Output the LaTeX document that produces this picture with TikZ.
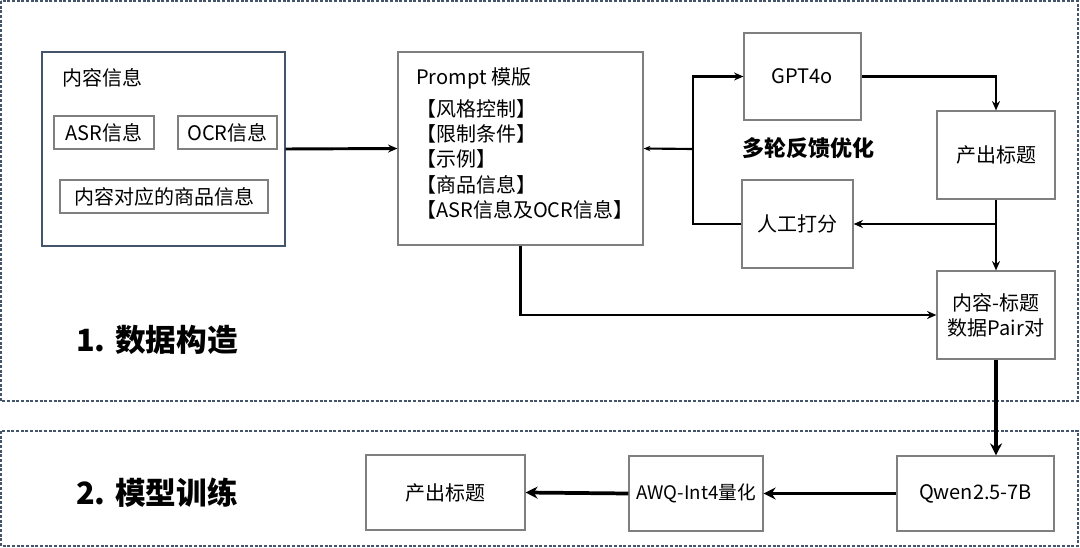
\documentclass[tikz,border=0pt]{standalone}
\usepackage{fontspec}
\setmainfont{Noto Sans CJK SC}
\usetikzlibrary{arrows.meta}
\definecolor{frameBlue}{HTML}{44546A}
\definecolor{boxGray}{HTML}{7F7F7F}

\begin{document}
\begin{tikzpicture}[x=0.75pt, y=-0.75pt, font=\fontsize{15}{18.75}\selectfont,
	box/.style={draw=boxGray, line width=0.9pt, inner sep=0pt, align=center},
	frame/.style={draw=frameBlue, line width=1pt, dash pattern=on 2.2pt off 1.3pt},
	flow/.style={line width=1.6pt, -{Stealth[length=7pt,width=6pt]}},
	heavy/.style={line width=2.8pt, -{Stealth[length=9pt,width=9pt]}}]
	\useasboundingbox (0,0) rectangle (1080,548);
	% two stages
	\draw[frame] (1,1) rectangle (1078,401);
	\draw[frame] (1,431) rectangle (1078,546);
	\node[font=\fontsize{23}{26}\selectfont\bfseries] (stageOne) at (157,340) {1. 数据构造};
	\node[font=\fontsize{23}{26}\selectfont\bfseries] (stageTwo) at (157,493) {2. 模型训练};

	% inputs
	\node[box, draw=frameBlue, minimum width=182.25pt, minimum height=145.5pt] (content) at (163.5,149) {};
	\node[anchor=west] (contentTitle) at (58,78) {内容信息};
	\node[box, minimum width=75pt, minimum height=24.75pt] (asr) at (104,132.5) {ASR信息};
	\node[box, minimum width=74.25pt, minimum height=24.75pt] (ocr) at (227.5,132.5) {OCR信息};
	\node[box, minimum width=156pt, minimum height=24.75pt] (goods) at (164,196.5) {内容对应的商品信息};

	\node[box, minimum width=183.75pt, minimum height=144.75pt] (prompt) at (520.5,148.5) {};
	\node[anchor=west, inner sep=0pt] (promptTitle) at (416,78) {Prompt 模版};
	\node[anchor=north west, align=left, inner sep=0pt, font=\fontsize{15}{19}\selectfont] (promptText) at (416,99)
		{【风格控制】\\【限制条件】\\【示例】\\【商品信息】\\【ASR信息及OCR信息】};

	% feedback loop
	\node[box, minimum width=87.75pt, minimum height=65.25pt] (gpt) at (802.5,76.5) {GPT4o};
	\node[box, minimum width=88.5pt, minimum height=66pt] (out1) at (996,155) {产出标题};
	\node[box, minimum width=83.25pt, minimum height=66pt] (score) at (797.5,224) {人工打分};
	\node[box, minimum width=88.5pt, minimum height=66pt] (pair) at (996,315) {内容-标题\\数据Pair对};
	\node[font=\fontsize{16.5}{20}\selectfont\bfseries] (loopLabel) at (808,148) {多轮反馈优化};

	% training
	\node[box, minimum width=119.25pt, minimum height=56.25pt] (out2) at (445.5,492.5) {产出标题};
	\node[box, minimum width=100.5pt, minimum height=56.25pt, font=\fontsize{14}{17}\selectfont] (awq) at (696,493.5) {AWQ-Int4量化};
	\node[box, minimum width=117.75pt, minimum height=56.25pt] (qwen) at (975.5,493.5) {Qwen2.5-7B};

	\coordinate (hub) at (693,149);
	\coordinate (split) at (out1.south |- score.east);
	\draw[flow, line width=2.2pt] (content.east) -- (prompt.west);
	\draw[flow, -{Stealth[length=5pt,width=4pt]}] (hub) -- (prompt.east);
	\draw[flow] (score.west) -| (hub) |- (gpt.west);
	\draw[flow] (gpt.east) -| (out1.north);
	\draw[flow] (out1.south) -- (pair.north);
	\draw[flow] (split) -- (score.east);
	\draw[flow] (prompt.south) |- (pair.west);
	\draw[heavy] (pair.south) -- (pair.south |- qwen.north);
	\draw[heavy] (qwen.west) -- (awq.east);
	\draw[heavy] (awq.west) -- (out2.east);
\end{tikzpicture}
\end{document}
